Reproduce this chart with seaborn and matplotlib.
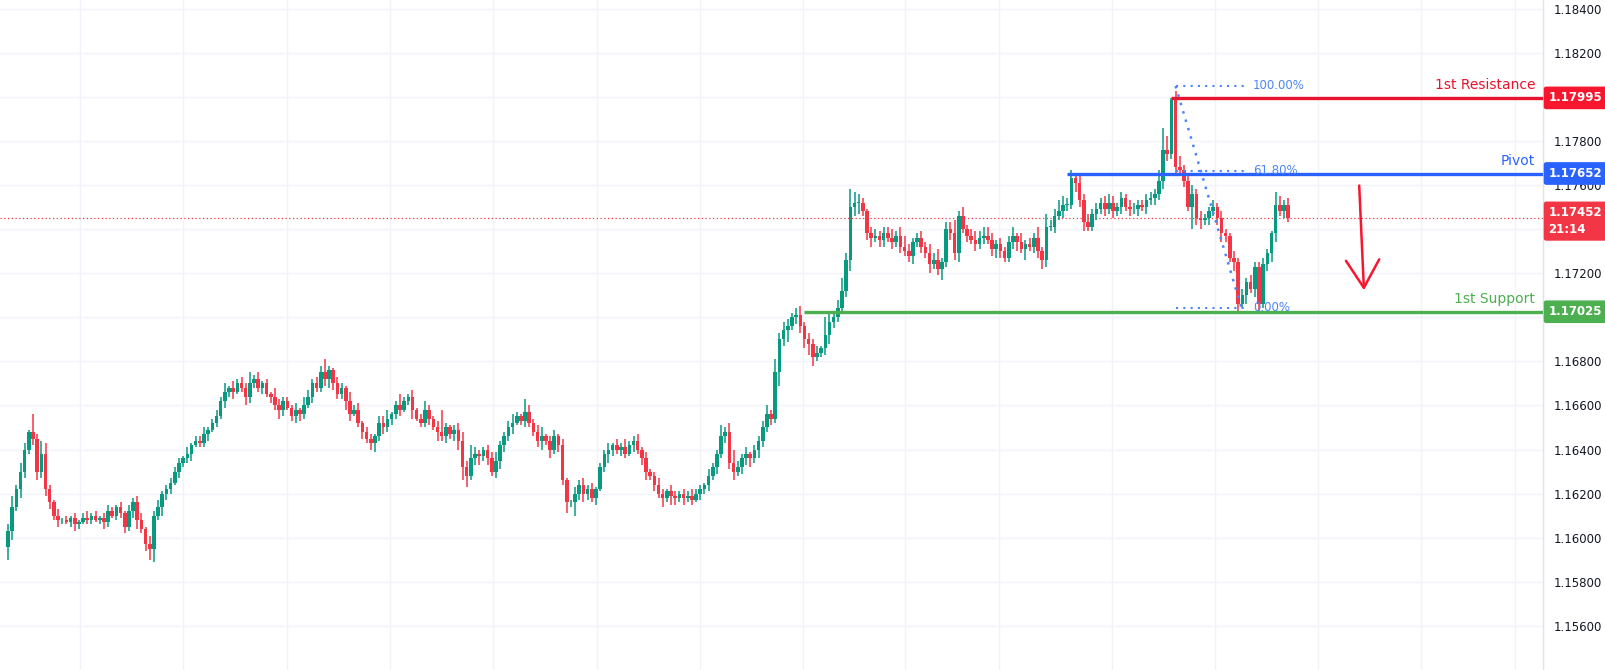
import matplotlib
matplotlib.use("Agg")
import matplotlib.pyplot as plt
import seaborn as sns
import numpy as np

# closes in pips above 1.16000
closes = [
    3,14,22,30,40,48,45,30,38,22,
    16,10,8,8,7,9,6,7,9,8,
    10,8,9,7,12,10,14,11,5,12,
    16,8,4,-3,-5,10,14,20,22,25,
    30,34,36,38,42,44,43,47,49,52,
    55,62,66,68,66,70,68,64,70,72,
    68,70,65,64,60,58,62,59,55,58,
    56,60,64,70,68,75,72,76,70,65,
    68,62,56,58,52,48,45,43,46,52,
    50,54,56,60,58,62,64,58,54,52,
    58,54,50,48,46,50,47,49,44,32,
    28,36,38,37,40,36,30,35,42,46,
    50,52,55,53,57,52,48,44,46,44,
    40,46,42,26,16,16,20,24,20,22,
    18,22,32,38,40,42,40,41,38,42,
    44,40,36,30,28,24,20,18,21,19,
    18,20,18,19,17,20,22,24,28,32,
    38,46,48,34,30,32,36,38,36,40,
    44,50,56,54,75,90,94,96,100,101,
    96,90,88,82,84,86,92,98,100,104,
    112,126,150,152,152,148,138,136,137,135,
    138,136,134,137,132,130,128,134,136,132,
    129,124,126,122,125,140,138,129,146,140,
    137,135,133,136,137,135,131,133,130,127,
    134,137,134,131,133,132,136,130,126,141,
    141,146,148,151,151,163,161,153,143,141,
    147,149,152,149,152,148,150,154,150,149,
    149,151,150,153,154,156,162,176,174,198.5,
    168,167,162,150,156,145,144,145,148,150,
    145,138,137,127,125,106,110,116,113,123,
    106,124,129,138,151,148,151,145.2,
]
first_open = -4
# upper / lower wick lengths in pips (base-36 digits)
upper_wicks = ("3524318265" "2131212123" "1212321213" "2331423122" "2213122312"
               "3241323252" "3121432213" "1432336213" "2142312213" "3412521312"
               "4213a21234" "3632123422" "3421632341" "2313113232" "3122313242"
               "2313123213" "2122322132" "2524632312" "2342634323" "4232318534"
               "6385421332" "3342453223" "2435233624" "2343443232" "3414232526"
               "3354342434" "2323432323" "3223325a61" "4523423223" "2321323232"
               "23216423")
lower_wicks = ("6424323433" "3232123212" "2123212232" "3423562432" "1322312231"
               "2132312432" "2313243123" "3213223432" "2431232342" "3232312412"
               "2314232346" "5234232343" "2312322342" "4232526343" "2312432321"
               "3234232424" "3232213232" "3233423342" "4323263523" "3454223432"
               "2354523423" "3232323423" "2423523342" "3232323432" "2342523343"
               "2323324342" "2323232323" "2323233432" "3232a34232" "3432432424"
               "32344232")

resistance, pivot, support, last_price = 1.17995, 1.17652, 1.17025, 1.17452
fib_high, fib_low = 1.18049, 1.17042
ticks = [1.156, 1.158, 1.160, 1.162, 1.164, 1.166, 1.168, 1.170,
         1.172, 1.174, 1.176, 1.178, 1.180, 1.182, 1.184]
hidden_ticks = [1.174, 1.180]
grid_x = [80, 183, 287, 390, 493, 597, 700, 803, 905, 999, 1112, 1215, 1318, 1421, 1515]

n = len(closes)
c = 1.16 + np.array(closes, float) / 1e4
o = np.concatenate([[1.16 + first_open / 1e4], c[:-1]])
up = np.array([int(ch, 36) for ch in upper_wicks[:n]]) / 1e4
lo = np.array([int(ch, 36) for ch in lower_wicks[:n]]) / 1e4
h = np.maximum(o, c) + up
l = np.minimum(o, c) - lo
idx = np.arange(n)

GREEN, RED, BLUE = "#089981", "#f23645", "#2962ff"

sns.set_theme(style="white")
plt.rcParams['font.family'] = ['DejaVu Sans']
fig = plt.figure(figsize=(16.05, 6.7), dpi=100)
ax = fig.add_axes([0, 0, 1543 / 1605, 1])
step = 4.17
ax.set_xlim(-8 / step, (1543 - 8) / step)
ax.set_ylim(1.15400, 1.18439)

for t in ticks:
    ax.axhline(t, color="#f0f3fa", lw=1, zorder=0)
for gx in grid_x:
    ax.axvline((gx - 8) / step, color="#f0f3fa", lw=1, zorder=0)

colors = np.where(c >= o, GREEN, RED)
ax.vlines(idx, l, h, colors=colors, lw=1.1, zorder=2)
ax.bar(idx, np.maximum(np.abs(c - o), 0.00002), bottom=np.minimum(o, c),
       width=0.86, color=colors, linewidth=0, zorder=3)

xr = ax.get_xlim()[1]
ax.axhline(last_price, color=RED, lw=0.9, ls=(0, (1, 2)), zorder=1)
ax.hlines(resistance, 279, xr, color="#e8132c", lw=2.4, zorder=4)
ax.hlines(pivot, 254, xr, color=BLUE, lw=2.4, zorder=4)
ax.hlines(support, 191, xr, color="#4caf50", lw=2.4, zorder=4)
for txt, y, col in [("1st Resistance", resistance, "#e8132c"), ("Pivot", pivot, BLUE),
                    ("1st Support", support, "#4caf50")]:
    ax.annotate(txt, (366.2, y), xytext=(0, 4), textcoords="offset points",
                ha="right", va="bottom", color=col, fontsize=10)

# fib
fcol = "#4a86f5"
fx0, fx1 = 280, 296.5
for lvl, lab in [(1.0, "100.00%"), (0.618, "61.80%"), (0.0, "0.00%")]:
    y = fib_low + lvl * (fib_high - fib_low)
    ax.plot([fx0, fx1], [y, y], color=fcol, lw=1.5, ls=(0, (1, 2.5)), zorder=5)
    ax.text(298.6, y, lab, color=fcol, fontsize=8.5, va="center", ha="left", zorder=5)
ax.plot([fx0, 295.8], [fib_high, fib_low], color=fcol, lw=1.8, ls=(0, (1, 2.5)), zorder=5)

ax.annotate("", xy=(325.2, 1.17110), xytext=(324, 1.17610),
            arrowprops=dict(arrowstyle="->,head_length=1.0,head_width=0.6",
                            color="#f7162d", lw=1.8, mutation_scale=20))

ax.yaxis.tick_right()
ax.set_yticks(ticks)
ax.set_yticklabels(["" if t in hidden_ticks else f"{t:.5f}" for t in ticks],
                   fontsize=8.5, color="#131722")
ax.tick_params(axis="y", length=0, pad=8)
ax.set_xticks([])
for s in ax.spines.values():
    s.set_visible(False)
ax.plot([1, 1], [0, 1], transform=ax.transAxes, color="#e0e3eb", lw=1, clip_on=False)

for txt, y, col in [("1.17995", resistance, "#f7162d"), ("1.17652", pivot, BLUE),
                    ("1.17452\n21:14", last_price - 0.00016, RED), ("1.17025", support, "#4caf50")]:
    ax.annotate(txt, (1.0, y), xycoords=("axes fraction", "data"), xytext=(4, 0),
                textcoords="offset points", ha="left", va="center", color="white",
                fontsize=8.5, fontweight="bold", linespacing=1.35, zorder=10, annotation_clip=False,
                bbox=dict(boxstyle="round,pad=0.35,rounding_size=0.15", fc=col, ec=col))

fig.savefig("out.png", dpi=100, facecolor="white")
